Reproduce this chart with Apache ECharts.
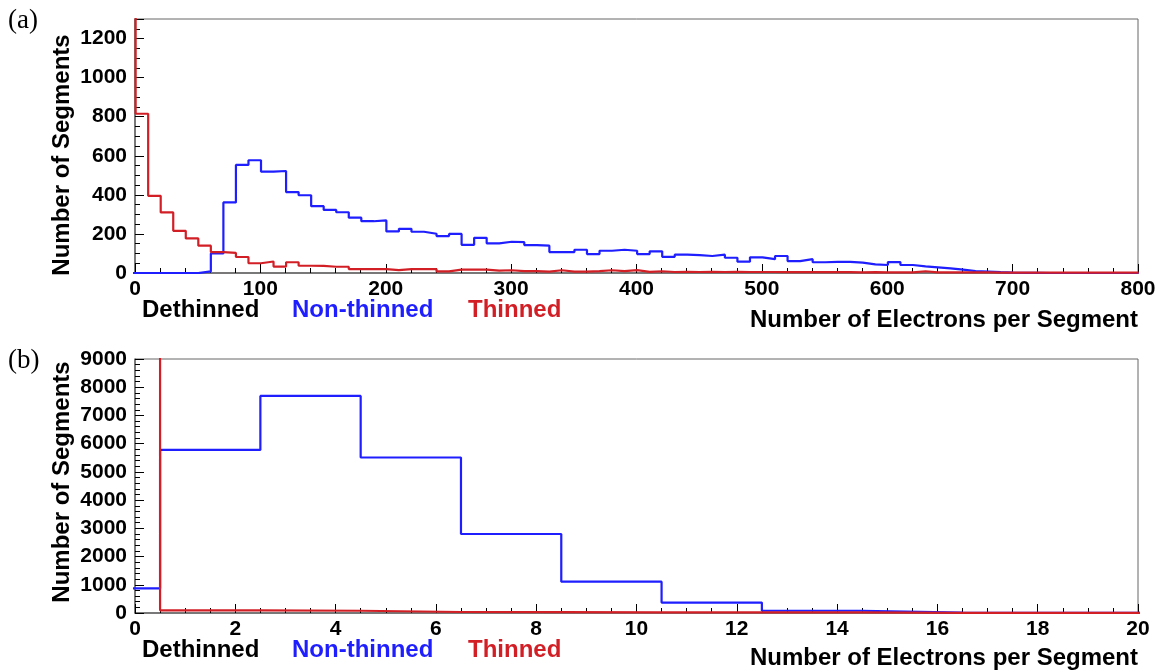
<!DOCTYPE html>
<html>
<head>
<meta charset="utf-8">
<title>Electrons per segment</title>
<script src="https://cdn.jsdelivr.net/npm/echarts@6/dist/echarts.min.js"></script>
<style>
  html, body { margin: 0; padding: 0; background: #fff; }
  #main { width: 1161px; height: 670px; }
</style>
</head>
<body>
<div id="main"></div>
<script type="text/javascript">
// histogram binning: first bin low edge and bin width
var binStartA = -9.5, binWidthA = 10;
var binStartB = -1.5, binWidthB = 2;

// (a) counts per bin, bin k covers [10k-9.5, 10k+0.5]
var nonThinnedA = [0, 0, 0, 0, 0, 0, 8, 100, 361, 553, 577, 519, 522, 414, 398, 342, 323, 311, 283, 265,
  269, 213, 226, 211, 201, 189, 200, 144, 180, 152, 160, 158, 143, 140, 107, 107, 119, 97, 114, 119,
  114, 97, 111, 83, 94, 91, 87, 94, 78, 58, 80, 71, 87, 61, 71, 55, 57, 57, 53, 44,
  41, 56, 41, 34, 29, 24, 17, 10, 7, 4, 2, 1, 1, 0, 0, 0, 0, 0, 0, 0, 0];
var thinnedA = [20000, 815, 395, 310, 216, 177, 140, 107, 103, 82, 50, 59, 33, 55, 37, 36, 32, 32, 20, 20,
  20, 15, 20, 20, 20, 8, 17, 17, 17, 12, 14, 10, 10, 7, 14, 7, 7, 10, 14, 10,
  15, 6, 9, 5, 6, 5, 6, 5, 6, 5, 5, 5, 4, 5, 4, 4, 4, 4, 3, 4,
  3, 3, 3, 9, 3, 3, 3, 3, 3, 2, 2, 2, 2, 2, 2, 2, 2, 2, 2, 2, 2];

// (b) counts per bin, bin k covers [2k-1.5, 2k+0.5]
var nonThinnedB = [870, 5780, 7690, 5510, 2800, 1110, 370, 80, 15, 3, 1];
var thinnedB = [90000, 95, 80, 35, 30, 25, 25, 22, 4, 6, 5];

var tickLabelsA = { min: 0, max: 800, interval: 100 };
var tickLabelsB = { min: 0, max: 20, interval: 2 };

var blue = '#1e1eff';
var red = '#d21f26';
var frame = '#666666';
var font = 'Liberation Sans, Arial, sans-serif';

// turn bin counts into step points [edge, value]
function stepPoints(start, width, counts) {
  var pts = [];
  for (var i = 0; i < counts.length; i++) {
    pts.push([start + i * width, counts[i]]);
  }
  pts.push([start + counts.length * width, counts[counts.length - 1]]);
  return pts;
}

function histSeries(name, idx, start, width, counts, color, z) {
  return {
    name: name,
    type: 'line',
    xAxisIndex: idx,
    yAxisIndex: idx,
    step: 'end',
    symbol: 'none',
    clip: true,
    z: z,
    lineStyle: { color: color, width: 2.2 },
    data: stepPoints(start, width, counts)
  };
}

function plain(v) { return String(v); }

function xAxisCfg(idx, t, minorSplit) {
  return {
    type: 'value',
    gridIndex: idx,
    min: t.min,
    max: t.max,
    interval: t.interval,
    axisLine: { show: true, onZero: false, lineStyle: { color: frame, width: 1.5 } },
    axisTick: { show: true, inside: true, length: 9, lineStyle: { color: '#000' } },
    minorTick: { show: true, splitNumber: minorSplit, length: 5, lineStyle: { color: '#000' } },
    splitLine: { show: false },
    axisLabel: { color: '#000', fontFamily: font, fontWeight: 'bold', fontSize: 21, margin: 6, formatter: plain }
  };
}

function yAxisCfg(idx, max, interval, minorSplit) {
  return {
    type: 'value',
    gridIndex: idx,
    min: 0,
    max: max,
    interval: interval,
    axisLine: { show: true, lineStyle: { color: frame, width: 1.5 } },
    axisTick: { show: true, inside: true, length: 9, lineStyle: { color: '#000' } },
    minorTick: { show: true, splitNumber: minorSplit, length: 5, lineStyle: { color: '#000' } },
    splitLine: { show: false },
    axisLabel: { color: '#000', fontFamily: font, fontWeight: 'bold', fontSize: 21, margin: 8, formatter: plain, showMaxLabel: max % interval === 0 }
  };
}

function label(text, x, y, color, align, size, family, rot) {
  return {
    type: 'text',
    x: x,
    y: y,
    rotation: rot || 0,
    style: {
      text: text,
      fill: color,
      font: (family ? 'normal ' : 'bold ') + (size || 24) + 'px ' + (family || font),
      textAlign: align || 'left',
      textVerticalAlign: 'middle'
    }
  };
}

var myChart = echarts.init(document.getElementById('main'));

var option = {
  animation: false,
  backgroundColor: '#fff',
  grid: [
    { left: 135, right: 23, top: 19, height: 254, show: true, borderColor: frame, borderWidth: 1, containLabel: false },
    { left: 135, right: 23, top: 359, height: 254, show: true, borderColor: frame, borderWidth: 1, containLabel: false }
  ],
  xAxis: [
    xAxisCfg(0, tickLabelsA, 5),
    xAxisCfg(1, tickLabelsB, 4)
  ],
  yAxis: [
    yAxisCfg(0, 1300, 200, 4),
    yAxisCfg(1, 9000, 1000, 5)
  ],
  series: [
    histSeries('Non-thinned (a)', 0, binStartA, binWidthA, nonThinnedA, blue, 2),
    histSeries('Thinned (a)', 0, binStartA, binWidthA, thinnedA, red, 3),
    histSeries('Non-thinned (b)', 1, binStartB, binWidthB, nonThinnedB, blue, 2),
    histSeries('Thinned (b)', 1, binStartB, binWidthB, thinnedB, red, 3)
  ],
  graphic: [
    label('(a)', 8, 21, '#000', 'left', 27, 'Liberation Serif, Times New Roman, serif'),
    label('(b)', 8, 361, '#000', 'left', 27, 'Liberation Serif, Times New Roman, serif'),
    label('Number of Segments', 62, 155, '#000', 'center', 24, null, Math.PI / 2),
    label('Number of Segments', 62, 482, '#000', 'center', 24, null, Math.PI / 2),
    label('Dethinned', 142, 310, '#000'),
    label('Non-thinned', 292, 310, blue),
    label('Thinned', 468, 310, red),
    label('Number of Electrons per Segment', 1138, 320, '#000', 'right'),
    label('Dethinned', 142, 650, '#000'),
    label('Non-thinned', 292, 650, blue),
    label('Thinned', 468, 650, red),
    label('Number of Electrons per Segment', 1138, 658, '#000', 'right')
  ]
};

myChart.setOption(option);
</script>
</body>
</html>
